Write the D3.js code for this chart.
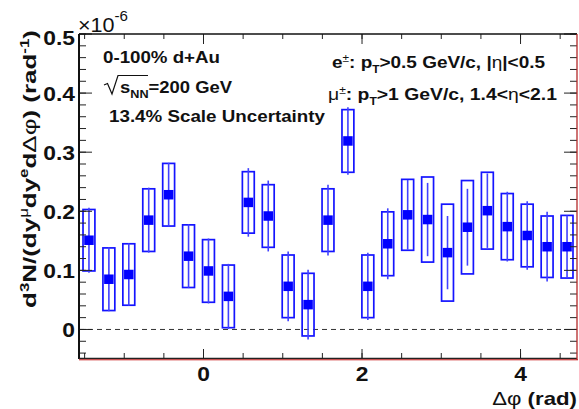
<!DOCTYPE html>
<html>
<head>
<meta charset="utf-8">
<script src="https://d3js.org/d3.v7.min.js"></script>
<style>
  body { margin: 0; background: white; }
  text { font-family: "Liberation Sans", Arial, sans-serif; fill: #111; }
</style>
</head>
<body>
<div id="chart"></div>
<script>
// delta phi bin centres: 25 bins over [-pi/2, 3pi/2]
const nBins = 25;
const dphi = d3.range(nBins).map(i => -Math.PI / 2 + (i + 0.5) * 2 * Math.PI / nBins);

// yield values (x1e-6)
const yields = [0.151, 0.085, 0.093, 0.185, 0.228, 0.124, 0.099, 0.056, 0.215, 0.192,
                0.073, 0.042, 0.185, 0.319, 0.073, 0.145, 0.194, 0.186, 0.130, 0.173,
                0.201, 0.174, 0.159, 0.140, 0.140];
// statistical errors (half length of the line)
const statErr = [0.055, 0.054, 0.053, 0.055, 0.054, 0.054, 0.055, 0.055, 0.058, 0.060,
                 0.059, 0.059, 0.060, 0.057, 0.057, 0.060, 0.059, 0.062, 0.062, 0.065,
                 0.063, 0.059, 0.058, 0.059, 0.053];
// systematic errors (half height of the box)
const sysErr = [0.052, 0.053, 0.052, 0.053, 0.053, 0.053, 0.053, 0.053, 0.052, 0.053,
                0.053, 0.053, 0.053, 0.053, 0.053, 0.054, 0.060, 0.072, 0.082, 0.079,
                0.065, 0.056, 0.053, 0.052, 0.053];

const xMajor = [0, 2, 4];
const xMinor = d3.range(-3, 10).map(i => i * 0.5);
const yMajor = [0, 0.1, 0.2, 0.3, 0.4, 0.5];
const yMinor = d3.range(-2, 26).map(i => +(i * 0.02).toFixed(2));

const W = 579, H = 409;
const pLeft = 79, pRight = 577, pTop = 34, pBottom = 359;
const stretch = 1.17;

const svg = d3.select('#chart').append('svg')
  .attr('width', W).attr('height', H)
  .style('background-color', 'white');

const x = d3.scaleLinear().domain([-Math.PI / 2, 3 * Math.PI / 2]).range([pLeft, pRight]);
const y = d3.scaleLinear().domain([-0.05, 0.5]).range([pBottom, pTop]);

// widen text horizontally like the original
function widen(sel, k) {
  sel.each(function () {
    const len = this.getComputedTextLength();
    d3.select(this).attr('textLength', len * (k || stretch)).attr('lengthAdjust', 'spacingAndGlyphs');
  });
}

// zero line
svg.append('line')
  .attr('x1', pLeft).attr('x2', pRight)
  .attr('y1', y(0)).attr('y2', y(0))
  .attr('stroke', '#333').attr('stroke-width', 1)
  .attr('stroke-dasharray', '5,4');

// systematic boxes
const boxW = x(0.15) - x(0);
svg.selectAll('rect.sys')
  .data(yields)
  .enter()
  .append('rect')
  .attr('class', 'sys')
  .attr('x', (d, i) => x(dphi[i]) - boxW / 2)
  .attr('y', (d, i) => y(d + sysErr[i]))
  .attr('width', boxW)
  .attr('height', (d, i) => y(d - sysErr[i]) - y(d + sysErr[i]))
  .attr('fill', 'none')
  .attr('stroke', '#1414ff')
  .attr('stroke-width', 1.7);

// stat error lines
svg.selectAll('line.stat')
  .data(yields)
  .enter()
  .append('line')
  .attr('class', 'stat')
  .attr('x1', (d, i) => x(dphi[i])).attr('x2', (d, i) => x(dphi[i]))
  .attr('y1', (d, i) => y(d + statErr[i]))
  .attr('y2', (d, i) => y(d - statErr[i]))
  .attr('stroke', '#4040ff')
  .attr('stroke-width', 1.6);

// markers
const ms = 9.5;
svg.selectAll('rect.pt')
  .data(yields)
  .enter()
  .append('rect')
  .attr('class', 'pt')
  .attr('x', (d, i) => x(dphi[i]) - ms / 2)
  .attr('y', d => y(d) - ms / 2)
  .attr('width', ms).attr('height', ms)
  .attr('fill', '#0000ff');

// ticks (all four sides, inward)
function ticks(vals, len, side) {
  const g = svg.append('g').attr('stroke', '#222').attr('stroke-width', 1);
  vals.forEach(v => {
    if (side === 'bottom') g.append('line').attr('x1', x(v)).attr('x2', x(v)).attr('y1', pBottom).attr('y2', pBottom - len);
    if (side === 'top') g.append('line').attr('x1', x(v)).attr('x2', x(v)).attr('y1', pTop).attr('y2', pTop + len);
    if (side === 'left') g.append('line').attr('x1', pLeft).attr('x2', pLeft + len).attr('y1', y(v)).attr('y2', y(v));
    if (side === 'right') g.append('line').attr('x1', pRight).attr('x2', pRight - len).attr('y1', y(v)).attr('y2', y(v));
  });
}
ticks(xMinor, 6, 'bottom'); ticks(xMajor, 10, 'bottom');
ticks(xMinor, 5, 'top'); ticks(xMajor, 10, 'top');
ticks(yMinor, 7, 'left'); ticks(yMajor, 13, 'left');
ticks(yMinor, 7, 'right'); ticks(yMajor, 13, 'right');

// frame
svg.append('line').attr('x1', pLeft).attr('x2', pRight).attr('y1', pTop).attr('y2', pTop)
  .attr('stroke', '#111').attr('stroke-width', 1.5);
svg.append('line').attr('x1', pLeft).attr('x2', pLeft).attr('y1', pTop).attr('y2', pBottom)
  .attr('stroke', '#111').attr('stroke-width', 2);
svg.append('line').attr('x1', pLeft).attr('x2', pRight).attr('y1', pBottom - 0.5).attr('y2', pBottom - 0.5)
  .attr('stroke', '#222').attr('stroke-width', 1.5);
svg.append('line').attr('x1', pLeft).attr('x2', pRight + 1).attr('y1', pBottom + 0.8).attr('y2', pBottom + 0.8)
  .attr('stroke', '#c81e1e').attr('stroke-width', 1);
svg.append('line').attr('x1', pRight).attr('x2', pRight).attr('y1', pTop).attr('y2', pBottom + 1)
  .attr('stroke', '#b42828').attr('stroke-width', 1.3);

// tick labels
svg.append('g').selectAll('text')
  .data(xMajor).enter().append('text')
  .attr('x', d => x(d)).attr('y', 381)
  .attr('text-anchor', 'middle')
  .style('font-size', '19.5px').style('font-weight', 'bold')
  .text(d => d3.format('d')(d))
  .call(widen);

svg.append('g').selectAll('text')
  .data(yMajor).enter().append('text')
  .attr('x', 75).attr('y', d => d === 0.5 ? y(d) + 10.5 : y(d) + 7.5)
  .attr('text-anchor', 'end')
  .style('font-size', '19.5px').style('font-weight', 'bold')
  .text(d => d === 0 ? '0' : d3.format('.1f')(d))
  .call(widen);

// x10^-6
const expo = svg.append('text').attr('x', 78).attr('y', 32)
  .style('font-size', '20px');
expo.append('tspan').text('\u00d710');
expo.append('tspan').attr('dy', -11).style('font-size', '14px').text('-6');
expo.attr('textLength', 50).attr('lengthAdjust', 'spacingAndGlyphs');

// axis titles
const xt = svg.append('text').attr('x', 577).attr('y', 405)
  .attr('text-anchor', 'end')
  .style('font-size', '19px').style('font-weight', 'bold');
xt.append('tspan').style('font-weight', 'normal').text('\u0394\u03c6');
xt.append('tspan').text(' (rad)');
xt.call(widen);

const yt = svg.append('text')
  .attr('transform', 'translate(36,169) rotate(-90)')
  .attr('text-anchor', 'middle')
  .style('font-size', '18.5px').style('font-weight', 'bold');
yt.append('tspan').text('d');
yt.append('tspan').attr('dy', -7).style('font-size', '12px').text('3');
yt.append('tspan').attr('dy', 7).text('N/(dy');
yt.append('tspan').attr('dy', -8).style('font-size', '12px').style('font-weight', 'normal').text('\u03bc');
yt.append('tspan').attr('dy', 8).text('dy');
yt.append('tspan').attr('dy', -8).style('font-size', '12px').text('e');
yt.append('tspan').attr('dy', 8).text('d');
yt.append('tspan').style('font-weight', 'normal').text('\u0394\u03c6');
yt.append('tspan').text(') (rad');
yt.append('tspan').attr('dy', -7).style('font-size', '12px').text('-1');
yt.append('tspan').attr('dy', 7).text(')');
yt.attr('textLength', 278).attr('lengthAdjust', 'spacingAndGlyphs');

// inset text, left
const t1 = svg.append('text').attr('x', 103).attr('y', 63)
  .style('font-size', '16px').style('font-weight', 'bold')
  .text('0-100% d+Au');
t1.attr('textLength', 117).attr('lengthAdjust', 'spacingAndGlyphs');

const t2 = svg.append('text').attr('x', 120).attr('y', 93)
  .style('font-size', '16px').style('font-weight', 'bold');
t2.append('tspan').text('s');
t2.append('tspan').attr('dy', 5).style('font-size', '11px').text('NN');
t2.append('tspan').attr('dy', -5).text('=200 GeV');
t2.attr('textLength', 112).attr('lengthAdjust', 'spacingAndGlyphs');
// radical sign
svg.append('path')
  .attr('d', 'M104,85 L107.5,83.5 L112,94 L118,75.5 L148,75.5')
  .attr('fill', 'none').attr('stroke', '#111').attr('stroke-width', 1.2);

const t3 = svg.append('text').attr('x', 109).attr('y', 122)
  .style('font-size', '16px').style('font-weight', 'bold')
  .text('13.4% Scale Uncertainty');
t3.attr('textLength', 216).attr('lengthAdjust', 'spacingAndGlyphs');

// inset text, right
const t4 = svg.append('text').attr('x', 332).attr('y', 68)
  .style('font-size', '16px').style('font-weight', 'bold');
t4.append('tspan').text('e');
t4.append('tspan').attr('dy', -6).style('font-size', '10px').style('font-weight', 'normal').text('\u00b1');
t4.append('tspan').attr('dy', 6).text(': p');
t4.append('tspan').attr('dy', 5).style('font-size', '10px').text('T');
t4.append('tspan').attr('dy', -5).text('>0.5 GeV/c, |');
t4.append('tspan').style('font-weight', 'normal').text('\u03b7');
t4.append('tspan').text('|<0.5');
t4.attr('textLength', 213).attr('lengthAdjust', 'spacingAndGlyphs');

const t5 = svg.append('text').attr('x', 328).attr('y', 100)
  .style('font-size', '16px').style('font-weight', 'bold');
t5.append('tspan').style('font-weight', 'normal').text('\u03bc');
t5.append('tspan').attr('dy', -6).style('font-size', '10px').style('font-weight', 'normal').text('\u00b1');
t5.append('tspan').attr('dy', 6).text(': p');
t5.append('tspan').attr('dy', 5).style('font-size', '10px').text('T');
t5.append('tspan').attr('dy', -5).text('>1 GeV/c, 1.4<');
t5.append('tspan').style('font-weight', 'normal').text('\u03b7');
t5.append('tspan').text('<2.1');
t5.attr('textLength', 229).attr('lengthAdjust', 'spacingAndGlyphs');
</script>
</body>
</html>
